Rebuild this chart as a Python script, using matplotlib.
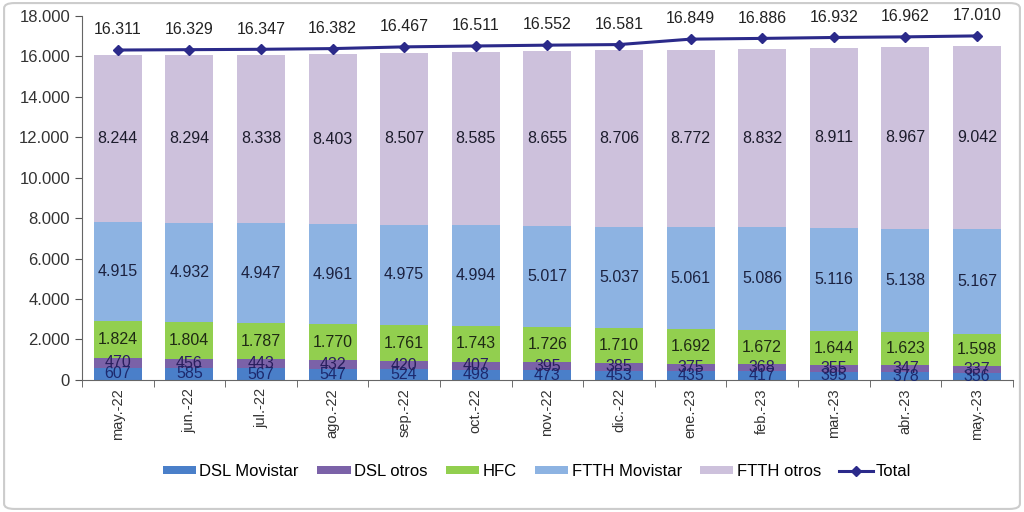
import numpy as np
import matplotlib.pyplot as plt
from matplotlib.patches import FancyBboxPatch

plt.rcParams['font.family'] = ['Liberation Sans', 'DejaVu Sans']

# Monthly lines (thousands)
months = ['may.-22', 'jun.-22', 'jul.-22', 'ago.-22', 'sep.-22', 'oct.-22', 'nov.-22',
          'dic.-22', 'ene.-23', 'feb.-23', 'mar.-23', 'abr.-23', 'may.-23']
dsl_movistar = [607, 585, 567, 547, 524, 498, 473, 453, 435, 417, 395, 378, 356]
dsl_otros = [470, 456, 443, 432, 420, 407, 395, 385, 375, 368, 355, 347, 337]
hfc = [1824, 1804, 1787, 1770, 1761, 1743, 1726, 1710, 1692, 1672, 1644, 1623, 1598]
ftth_movistar = [4915, 4932, 4947, 4961, 4975, 4994, 5017, 5037, 5061, 5086, 5116, 5138, 5167]
ftth_otros = [8244, 8294, 8338, 8403, 8507, 8585, 8655, 8706, 8772, 8832, 8911, 8967, 9042]
total = [16311, 16329, 16347, 16382, 16467, 16511, 16552, 16581, 16849, 16886, 16932, 16962, 17010]

series = [
    ('DSL Movistar', dsl_movistar, '#4a7fc9', '#1d2a6e'),
    ('DSL otros', dsl_otros, '#7b62a8', '#2a1f5e'),
    ('HFC', hfc, '#92cf4f', '#1f2a14'),
    ('FTTH Movistar', ftth_movistar, '#8db3e2', '#1c2240'),
    ('FTTH otros', ftth_otros, '#cdc1dc', '#1c1c2c'),
]


def fmt(v):
    return f'{v:,}'.replace(',', '.')


fig = plt.figure(figsize=(10.24, 5.12), dpi=100)
ax = fig.add_axes([0.08, 0.258, 0.909, 0.711])

x = np.arange(len(months))
bottom = np.zeros(len(months))
for name, vals, col, tcol in series:
    vals = np.array(vals)
    ax.bar(x, vals, 0.67, bottom=bottom, color=col, label=name)
    for xi, b, v in zip(x, bottom, vals):
        ax.text(xi, b + v / 2, fmt(int(v)), ha='center', va='center',
                fontsize=11.5, color=tcol)
    bottom += vals

ax.plot(x, total, color='#2b2a8a', lw=2.2, marker='D', ms=5.5, label='Total')
for xi, v in zip(x, total):
    ax.text(xi, v + 1000, fmt(v), ha='center', va='center', fontsize=11.5, color='#222222')

ax.set_xlim(-0.5, len(months) - 0.5)
ax.set_ylim(0, 18000)
ax.set_yticks(np.arange(0, 18001, 2000))
ax.set_yticklabels([fmt(int(v)) for v in np.arange(0, 18001, 2000)], fontsize=12, color='#333333')
ax.set_xticks(x)
ax.set_xticklabels(months, rotation=90, fontsize=10.5, color='#333333')
ax.set_xticks(np.arange(-0.5, len(months)), minor=True)
ax.tick_params(axis='x', which='major', length=0, pad=6)
ax.tick_params(axis='x', which='minor', length=5, color='#555555')
ax.tick_params(axis='y', length=5, color='#555555')
for s in ['top', 'right']:
    ax.spines[s].set_visible(False)
for s in ['left', 'bottom']:
    ax.spines[s].set_color('#666666')

h, l = ax.get_legend_handles_labels()
h = h[1:] + h[:1]
l = l[1:] + l[:1]
ax.legend(h, l, loc='upper center', bbox_to_anchor=(0.489, -0.19), ncol=6, frameon=False,
          fontsize=12, handlelength=2.0, handleheight=0.4, columnspacing=1.1, handletextpad=0.2)

fig.patches.append(FancyBboxPatch((0.004, 0.006), 0.992, 0.988, boxstyle='round,pad=0,rounding_size=0.01',
                                  transform=fig.transFigure, fill=False, ec='#cccccc', lw=1.5))

fig.savefig('out.png', dpi=100)
